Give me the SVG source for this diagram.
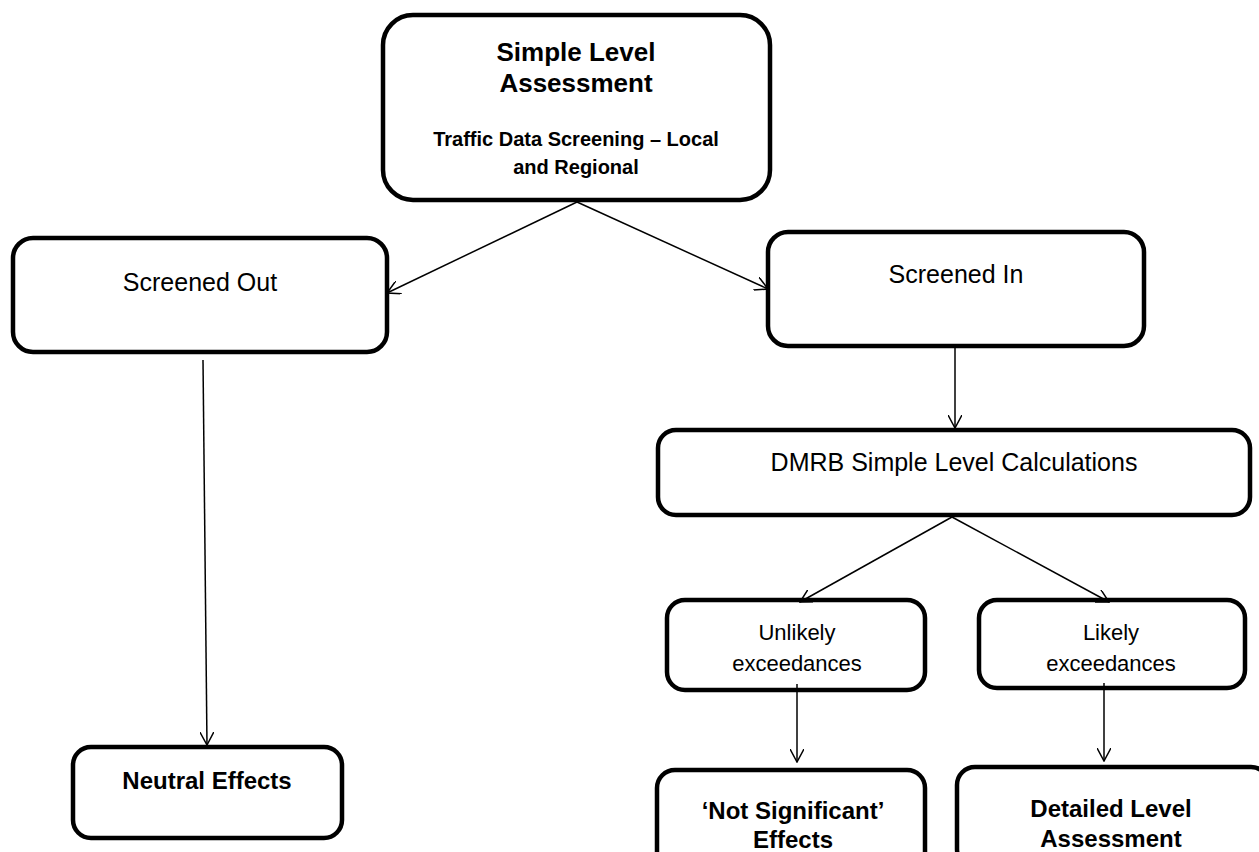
<svg xmlns="http://www.w3.org/2000/svg" width="1259" height="852" viewBox="0 0 1259 852">
<style>
.box{fill:#fff;stroke:#000;stroke-width:4.5}
.t{font-family:"Liberation Sans",Arial,sans-serif;fill:#000;text-anchor:middle}
.b{font-weight:bold}
.con line{stroke:#000;stroke-width:1.5;fill:none}
</style>
<defs>
<marker id="arr" viewBox="0 0 14 14" refX="13" refY="7" markerWidth="14" markerHeight="14" markerUnits="userSpaceOnUse" orient="auto">
<path d="M0,0 L13,7 L0,14" fill="none" stroke="#000" stroke-width="1.5"/>
</marker>
</defs>
<rect width="1259" height="852" fill="#fff"/>
<g id="simple-level">
<rect class="box" x="383" y="15" width="387" height="185" rx="30"/>
<text class="t b" x="576" y="61" font-size="26">Simple Level</text>
<text class="t b" x="576" y="92" font-size="26">Assessment</text>
<text class="t b" x="576" y="146" font-size="20">Traffic Data Screening – Local</text>
<text class="t b" x="576" y="174" font-size="20">and Regional</text>
</g>
<g id="screened-out">
<rect class="box" x="13" y="238" width="374" height="114" rx="20"/>
<text class="t" x="200" y="291" font-size="25">Screened Out</text>
</g>
<g id="screened-in">
<rect class="box" x="768" y="232" width="376" height="114" rx="20"/>
<text class="t" x="956" y="283" font-size="25">Screened In</text>
</g>
<g id="dmrb">
<rect class="box" x="658" y="430" width="592" height="85" rx="18"/>
<text class="t" x="954" y="471" font-size="25">DMRB Simple Level Calculations</text>
</g>
<g id="unlikely">
<rect class="box" x="667" y="600" width="258" height="90" rx="18"/>
<text class="t" x="797" y="640" font-size="22">Unlikely</text>
<text class="t" x="797" y="671" font-size="22">exceedances</text>
</g>
<g id="likely">
<rect class="box" x="979" y="600" width="266" height="88" rx="18"/>
<text class="t" x="1111" y="640" font-size="22">Likely</text>
<text class="t" x="1111" y="671" font-size="22">exceedances</text>
</g>
<g id="neutral">
<rect class="box" x="73" y="747" width="269" height="91" rx="18"/>
<text class="t b" x="207" y="789" font-size="24">Neutral Effects</text>
</g>
<g id="not-significant">
<rect class="box" x="657" y="770" width="268" height="100" rx="18"/>
<text class="t b" x="793" y="819" font-size="24">‘Not Significant’</text>
<text class="t b" x="793" y="848" font-size="24">Effects</text>
</g>
<g id="detailed">
<rect class="box" x="957" y="767" width="312" height="100" rx="18"/>
<text class="t b" x="1111" y="817" font-size="24">Detailed Level</text>
<text class="t b" x="1111" y="847" font-size="24">Assessment</text>
</g>
<g id="connectors" class="con">
<line x1="577" y1="202" x2="387" y2="293" marker-end="url(#arr)"/>
<line x1="577" y1="202" x2="768" y2="289" marker-end="url(#arr)"/>
<line x1="203" y1="360" x2="207" y2="745" marker-end="url(#arr)"/>
<line x1="955" y1="348" x2="955" y2="428" marker-end="url(#arr)"/>
<line x1="952" y1="517" x2="800" y2="602" marker-end="url(#arr)"/>
<line x1="952" y1="517" x2="1109" y2="602" marker-end="url(#arr)"/>
<line x1="797" y1="684" x2="797" y2="762" marker-end="url(#arr)"/>
<line x1="1104" y1="683" x2="1104" y2="761" marker-end="url(#arr)"/>
</g>
</svg>
